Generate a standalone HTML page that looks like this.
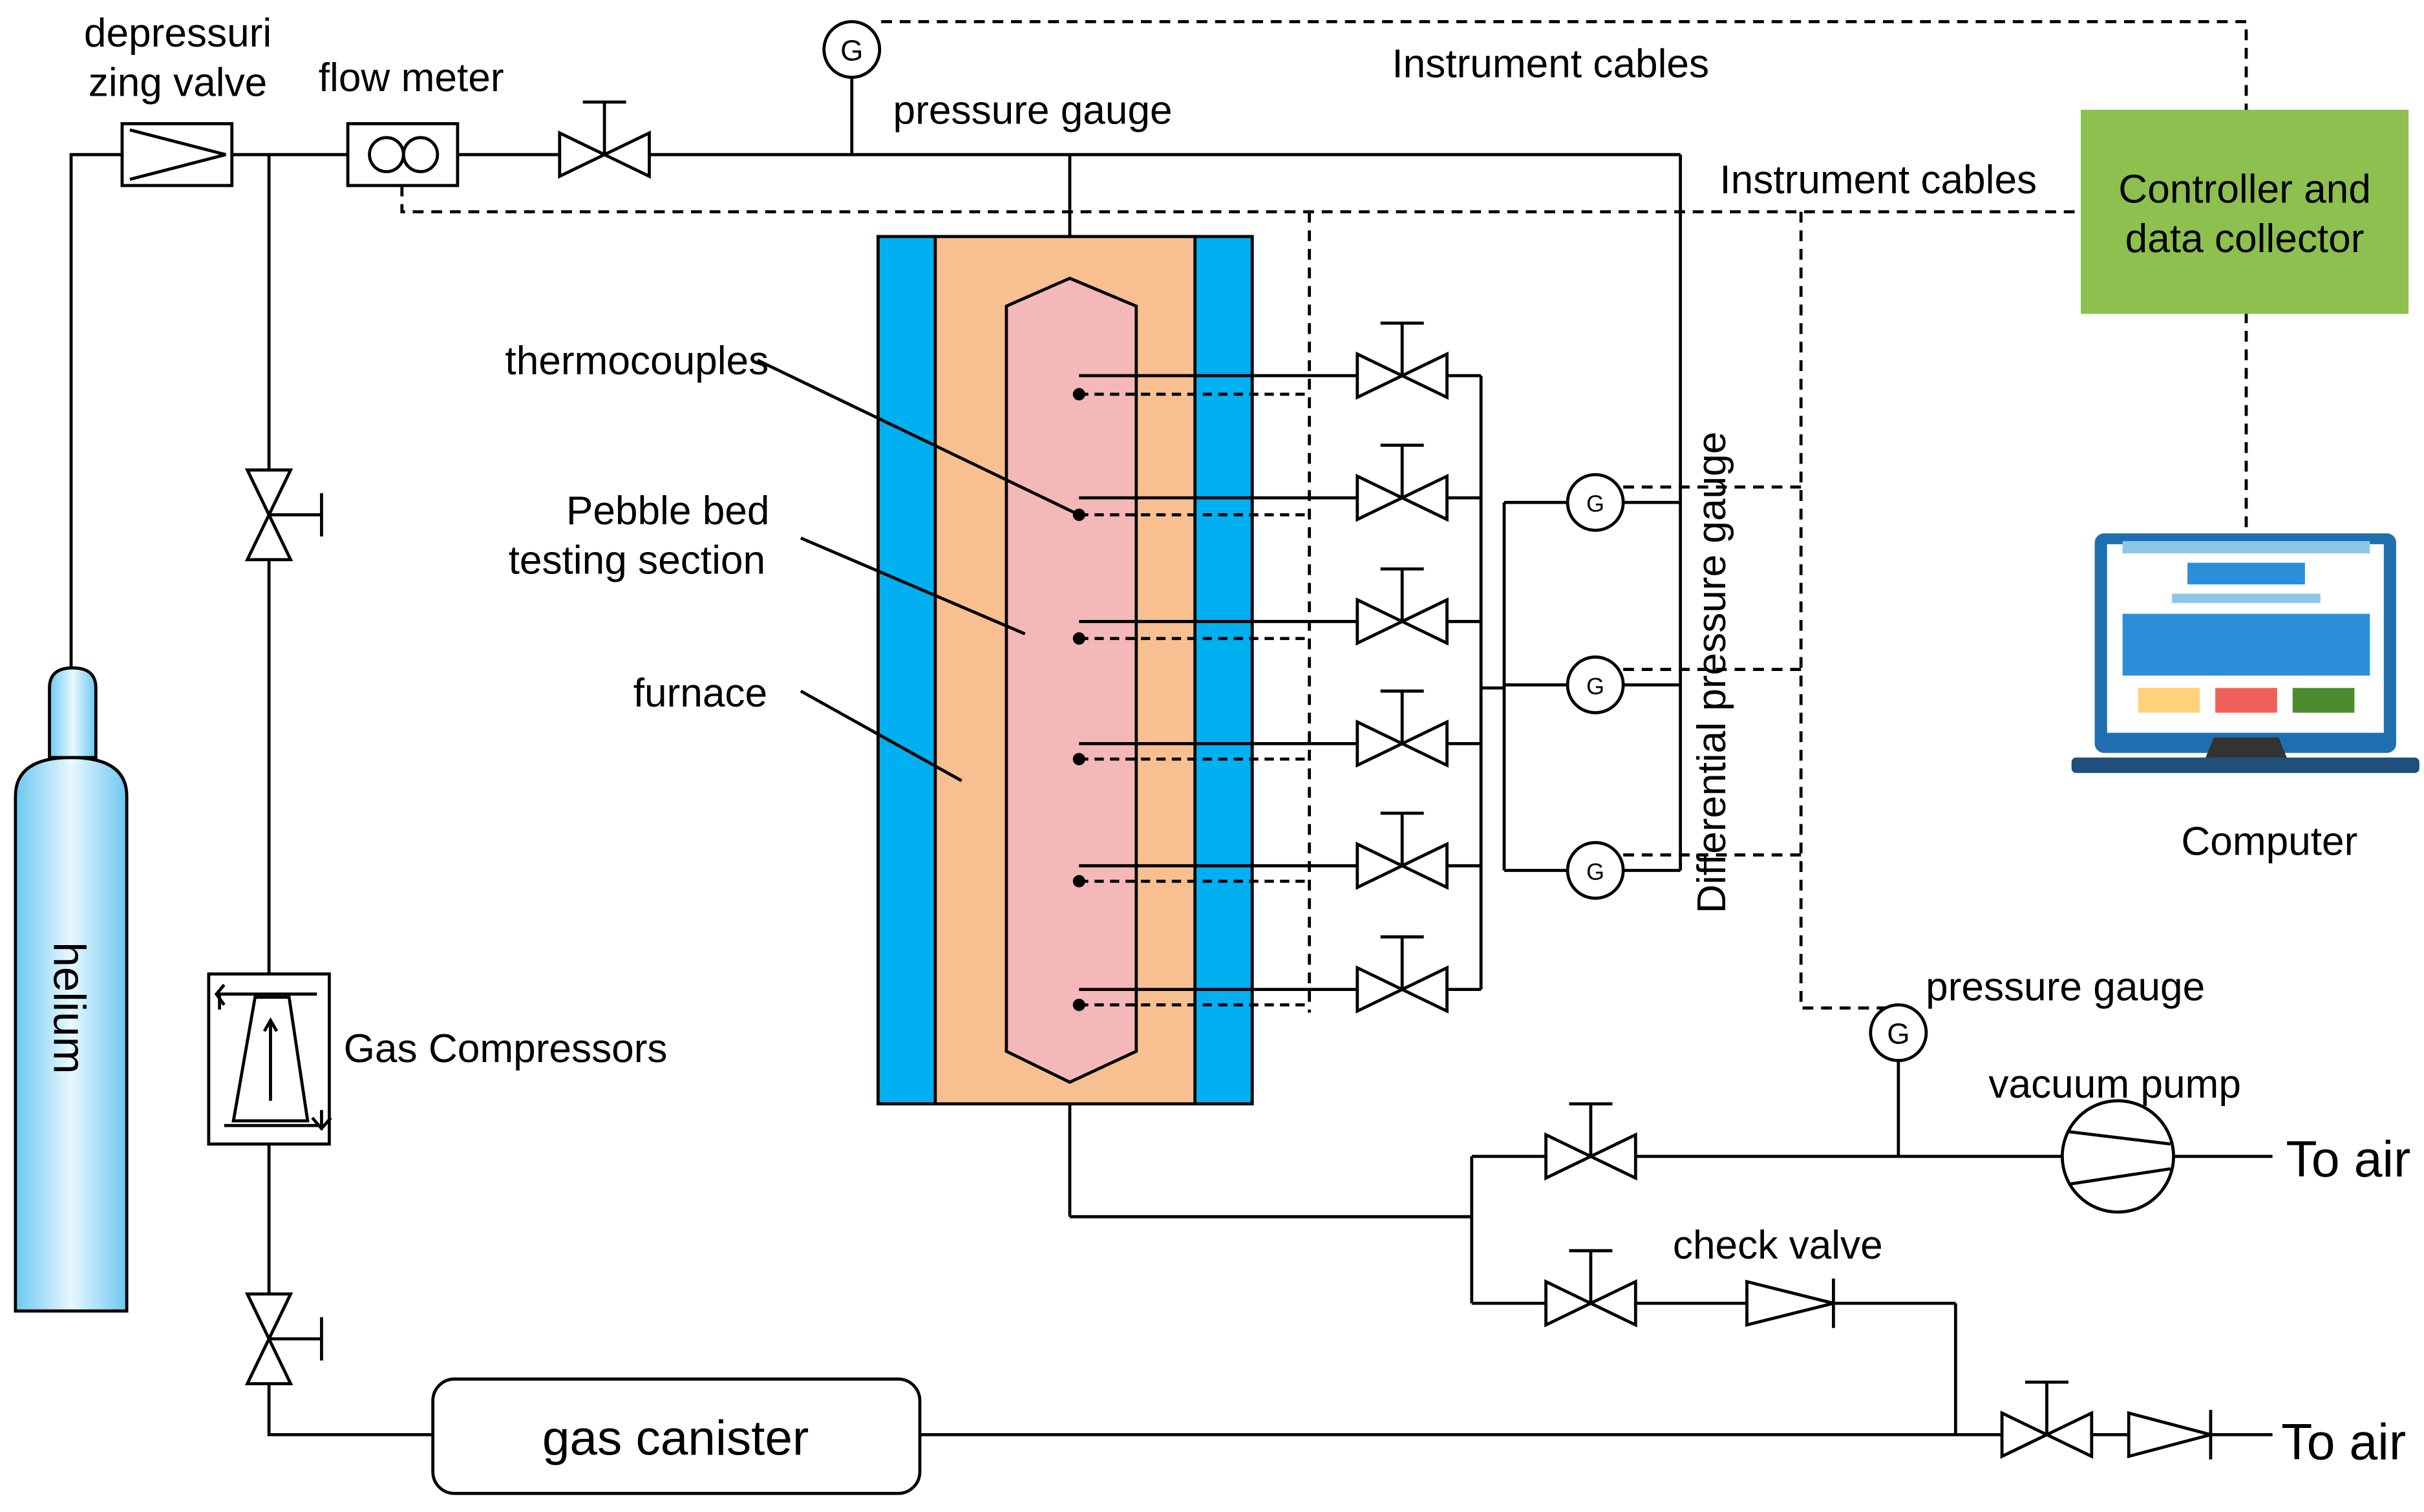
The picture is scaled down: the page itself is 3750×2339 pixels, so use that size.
<!DOCTYPE html>
<html><head><meta charset="utf-8"><style>html,body{margin:0;padding:0;background:#fff}svg{display:block}</style></head>
<body>
<svg xmlns="http://www.w3.org/2000/svg" width="3750" height="2339" viewBox="0 0 1568 978" font-family="Liberation Sans, sans-serif" font-size="26" fill="none" stroke="#000" stroke-width="2">
<defs>
<linearGradient id="he" x1="0" x2="1" y1="0" y2="0"><stop offset="0" stop-color="#6cc8f0"/><stop offset="0.5" stop-color="#e8f8ff"/><stop offset="1" stop-color="#6cc8f0"/></linearGradient>
<g id="v"><path d="M-29,-14 L29,14 L29,-14 L-29,14 Z" fill="#fff"/><line x1="0" y1="0" x2="0" y2="-34"/><line x1="-14" y1="-34" x2="14" y2="-34"/></g>
<g id="vs"><path d="M-14,-29 L14,29 L-14,29 L14,-29 Z" fill="#fff"/><line x1="0" y1="0" x2="34" y2="0"/><line x1="34" y1="-14" x2="34" y2="14"/></g>
</defs>
<path d="M10,515 Q10,490 46,490 Q82,490 82,515 L82,848 L10,848 Z" fill="url(#he)" stroke="#000"/>
<path d="M32,445 Q32,432 47,432 Q62,432 62,445 L62,490 L32,490 Z" fill="url(#he)"/>
<text x="35" y="652" transform="rotate(90 35 652)" text-anchor="middle" fill="#000" stroke="none" font-size="29">helium</text>
<polyline points="46,432 46,100 79,100"/>
<rect x="79" y="80" width="71" height="40" fill="#fff"/>
<polyline points="84,84 146,100 84,116"/>
<line x1="150" y1="100" x2="225" y2="100"/>
<rect x="225" y="80" width="71" height="40" fill="#fff"/>
<circle cx="250" cy="100" r="11"/><circle cx="272" cy="100" r="11"/>
<line x1="296" y1="100" x2="1087" y2="100"/>
<use href="#v" x="391" y="100"/>
<line x1="551" y1="100" x2="551" y2="50"/>
<circle cx="551" cy="32" r="18" fill="#fff"/>
<text x="551" y="39" text-anchor="middle" fill="#000" stroke="none" font-size="19">G</text>
<line x1="692" y1="100" x2="692" y2="180"/>
<line x1="1087" y1="100" x2="1087" y2="563"/>
<polyline points="174,100 174,928 280,928"/>
<use href="#vs" x="174" y="333"/>
<use href="#vs" x="174" y="866"/>
<rect x="135" y="630" width="78" height="110" fill="#fff"/>
<polygon points="165,645 187,645 199,725 151,725"/>
<polyline points="142,653 142,643 205,643"/><polyline points="145,650 140,643 145,637" />
<line x1="175" y1="712" x2="175" y2="660"/><polyline points="171,667 175,660 179,667"/>
<polyline points="145,728 208,728 208,718"/><polyline points="202,723 208,730 214,723"/>
<rect x="280" y="892" width="315" height="74" rx="14" fill="#fff"/>
<line x1="595" y1="928" x2="1470" y2="928"/>
<use href="#v" x="1324" y="928"/>
<polygon points="1377,914 1430,928 1377,942" fill="#fff"/><line x1="1430" y1="912" x2="1430" y2="944"/>
<rect x="568" y="153" width="242" height="561" fill="#f8c090"/>
<rect x="568" y="153" width="37" height="561" fill="#00b0f0"/>
<rect x="773" y="153" width="37" height="561" fill="#00b0f0"/>
<polygon points="692,180 735,198 735,680 692,700 651,680 651,198" fill="#f4b8b8"/>
<line x1="692" y1="714" x2="692" y2="787"/>
<g>
<line x1="698" y1="243" x2="958" y2="243"/><line x1="698" y1="322" x2="958" y2="322"/><line x1="698" y1="402" x2="958" y2="402"/><line x1="698" y1="481" x2="958" y2="481"/><line x1="698" y1="560" x2="958" y2="560"/><line x1="698" y1="640" x2="958" y2="640"/>
</g>
<g stroke-dasharray="6,4">
<line x1="698" y1="255" x2="847" y2="255"/><line x1="698" y1="333" x2="847" y2="333"/><line x1="698" y1="413" x2="847" y2="413"/><line x1="698" y1="491" x2="847" y2="491"/><line x1="698" y1="570" x2="847" y2="570"/><line x1="698" y1="650" x2="847" y2="650"/>
</g>
<g fill="#000" stroke="none">
<circle cx="698" cy="255" r="4"/><circle cx="698" cy="333" r="4"/><circle cx="698" cy="413" r="4"/><circle cx="698" cy="491" r="4"/><circle cx="698" cy="570" r="4"/><circle cx="698" cy="650" r="4"/>
</g>
<use href="#v" x="907" y="243"/><use href="#v" x="907" y="322"/><use href="#v" x="907" y="402"/><use href="#v" x="907" y="481"/><use href="#v" x="907" y="560"/><use href="#v" x="907" y="640"/>
<line x1="958" y1="243" x2="958" y2="640"/>
<line x1="958" y1="445" x2="973" y2="445"/>
<line x1="973" y1="325" x2="973" y2="563"/>
<line x1="973" y1="325" x2="1087" y2="325"/><line x1="973" y1="443" x2="1087" y2="443"/><line x1="973" y1="563" x2="1087" y2="563"/>
<g fill="#fff"><circle cx="1032" cy="325" r="18"/><circle cx="1032" cy="443" r="18"/><circle cx="1032" cy="563" r="18"/></g>
<g fill="#000" stroke="none" font-size="15" text-anchor="middle"><text x="1032" y="331">G</text><text x="1032" y="449">G</text><text x="1032" y="569">G</text></g>
<g stroke-dasharray="7,5">
<polyline points="570,14 1453,14 1453,72"/>
<polyline points="260,120 260,137 1347,137"/>
<line x1="1453" y1="202" x2="1453" y2="342"/>
<line x1="847" y1="137" x2="847" y2="655"/>
<polyline points="1165,137 1165,652 1228,652"/>
<line x1="1050" y1="315" x2="1165" y2="315"/><line x1="1050" y1="433" x2="1165" y2="433"/><line x1="1050" y1="553" x2="1165" y2="553"/>
</g>
<rect x="1347" y="72" width="210" height="130" fill="#8dc04f" stroke="#8dc04f"/>
<text x="1452" y="131" text-anchor="middle" fill="#000" stroke="none">Controller and</text>
<text x="1452" y="163" text-anchor="middle" fill="#000" stroke="none">data collector</text>
<rect x="1355" y="345" width="195" height="142" rx="6" fill="#1f6fb0" stroke="none"/>
<rect x="1363" y="352" width="179" height="122" fill="#fff" stroke="none"/>
<rect x="1373" y="350" width="160" height="8" fill="#8ec6ea" stroke="none"/>
<rect x="1415" y="364" width="76" height="14" fill="#2a8fd8" stroke="none"/>
<rect x="1405" y="384" width="96" height="6" fill="#8ec6ea" stroke="none"/>
<rect x="1373" y="397" width="160" height="40" fill="#2a8fd8" stroke="none"/>
<rect x="1383" y="445" width="40" height="16" fill="#ffd27a" stroke="none"/>
<rect x="1433" y="445" width="40" height="16" fill="#f0605a" stroke="none"/>
<rect x="1483" y="445" width="40" height="16" fill="#4e8a2e" stroke="none"/>
<polygon points="1432,477 1474,477 1480,492 1426,492" fill="#333" stroke="none"/>
<rect x="1340" y="490" width="225" height="10" rx="3" fill="#1f4f7a" stroke="none"/>
<polyline points="692,787 952,787"/>
<polyline points="952,748 952,843"/>
<line x1="952" y1="748" x2="1335" y2="748"/>
<line x1="952" y1="843" x2="1265" y2="843"/>
<line x1="1265" y1="843" x2="1265" y2="928"/>
<use href="#v" x="1029" y="748"/><use href="#v" x="1029" y="843"/>
<polygon points="1130,829 1186,843 1130,857" fill="#fff"/><line x1="1186" y1="827" x2="1186" y2="859"/>
<line x1="1228" y1="686" x2="1228" y2="748"/>
<circle cx="1228" cy="668" r="18" fill="#fff"/>
<text x="1228" y="675" text-anchor="middle" fill="#000" stroke="none" font-size="19">G</text>
<circle cx="1370" cy="748" r="36" fill="#fff"/>
<line x1="1338" y1="732" x2="1404" y2="740"/><line x1="1338" y1="766" x2="1404" y2="756"/>
<line x1="1406" y1="748" x2="1470" y2="748"/>
<line x1="490" y1="233" x2="698" y2="333"/>
<line x1="518" y1="348" x2="663" y2="410"/>
<line x1="518" y1="447" x2="622" y2="505"/>
<g fill="#000" stroke="none" text-anchor="middle">
<text x="115" y="30">depressuri</text><text x="115" y="62">zing  valve</text>
<text x="266" y="59">flow meter</text>
<text x="668" y="80">pressure gauge</text>
<text x="1003" y="50">Instrument cables</text>
<text x="1215" y="125">Instrument cables</text>
<text x="412" y="242">thermocouples</text>
<text x="432" y="339">Pebble bed</text>
<text x="412" y="371">testing section</text>
<text x="453" y="457">furnace</text>
<text x="327" y="687">Gas Compressors</text>
<text x="437" y="941" font-size="32">gas canister</text>
<text x="1468" y="553">Computer</text>
<text x="1336" y="647">pressure gauge</text>
<text x="1368" y="710">vacuum pump</text>
<text x="1150" y="814">check valve</text>
<text x="1519" y="761" font-size="33">To air</text>
<text x="1516" y="944" font-size="33">To air</text>
<text x="1116" y="435" transform="rotate(-90 1116 435)">Differential pressure gauge</text>
</g>
</svg>
</body></html>
